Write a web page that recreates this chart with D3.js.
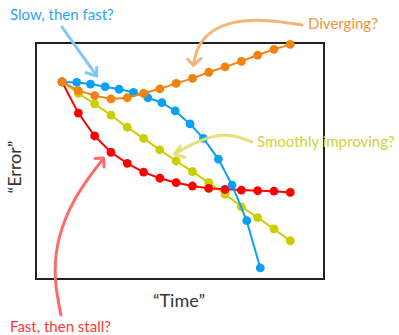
<!DOCTYPE html>
<html>
<head>
<meta charset="utf-8">
<script src="https://cdn.jsdelivr.net/npm/d3@7"></script>
<style>
  body { margin: 0; background: #fff; }
  svg { display: block; }
  text { font-family: Lato, "Open Sans", sans-serif; }
</style>
</head>
<body>
<div id="chart"></div>
<script>
// time steps (same for orange, red, yellow), blue runs on a slightly tighter step
const time = [0, 1, 2, 3, 4, 5, 6, 7, 8, 9, 10, 11, 12, 13, 14];
const blueTime = [0, 0.9, 1.74, 2.64, 3.5, 4.38, 5.26, 6.12, 6.94, 7.85, 8.67, 9.59, 10.43, 11.33, 12.16];

// "Error", 0 = bottom of frame, 100 = top
const errYellow = [83.5, 78.7, 74.2, 69.4, 64.3, 59.6, 54.7, 50.0, 45.5, 40.8, 36.0, 30.6, 26.0, 21.2, 16.2];
const errRed = [83.5, 70.3, 60.6, 53.7, 49.0, 45.3, 42.7, 40.8, 39.4, 38.4, 38.0, 37.7, 37.4, 37.2, 36.7];
const errBlue = [83.5, 83.3, 82.6, 81.5, 80.4, 79.1, 76.8, 74.7, 71.2, 65.7, 59.6, 50.8, 39.8, 24.7, 4.7];
const errOrange = [83.5, 79.8, 77.7, 76.3, 76.8, 78.7, 80.6, 82.9, 85.0, 87.6, 89.9, 92.2, 94.9, 97.3, 99.4];

const seriesNames = ['Smoothly improving?', 'Fast, then stall?', 'Slow, then fast?', 'Diverging?'];

const width = 399, height = 335;
const margin = { top: 43, left: 36, right: 75, bottom: 56 };

const svg = d3.select('#chart').append('svg')
  .attr('width', width)
  .attr('height', height);

const x = d3.scaleLinear().domain([-1.6, 16.07]).range([margin.left, width - margin.right]);
const y = d3.scaleLinear().domain([0, 100]).range([height - margin.bottom, margin.top]);

// frame
svg.append('rect')
  .attr('x', x.range()[0])
  .attr('y', y.range()[1])
  .attr('width', x.range()[1] - x.range()[0])
  .attr('height', y.range()[0] - y.range()[1])
  .attr('fill', 'none')
  .attr('stroke', '#222')
  .attr('stroke-width', 2);

// axis labels
svg.append('text')
  .attr('x', 179)
  .attr('y', 307)
  .attr('text-anchor', 'middle')
  .attr('font-size', 18)
  .attr('fill', '#333')
  .text('\u201CTime\u201D');

svg.append('text')
  .attr('transform', 'translate(21,167) rotate(-90)')
  .attr('text-anchor', 'middle')
  .attr('font-size', 18)
  .attr('fill', '#333')
  .text('\u201CError\u201D');

// series, bottom to top in drawing order
const series = [
  { name: seriesNames[0], t: time, e: errYellow, color: '#cccc00' },
  { name: seriesNames[1], t: time, e: errRed, color: '#ff0000' },
  { name: seriesNames[2], t: blueTime, e: errBlue, color: '#0aa0f5' },
  { name: seriesNames[3], t: time, e: errOrange, color: '#f0820f' }
];

const line = d3.line().x(d => x(d[0])).y(d => y(d[1]));

series.forEach(s => {
  const pts = s.t.map((t, i) => [t, s.e[i]]);
  const g = svg.append('g');
  g.append('path')
    .datum(pts)
    .attr('d', line)
    .attr('fill', 'none')
    .attr('stroke', s.color)
    .attr('stroke-width', 2);
  g.selectAll('circle')
    .data(pts)
    .join('circle')
    .attr('cx', d => x(d[0]))
    .attr('cy', d => y(d[1]))
    .attr('r', 4.4)
    .attr('fill', s.color);
});

// annotations (hand-drawn style arrows)
const curve = d3.line().curve(d3.curveBasis);
const annotations = [
  { text: seriesNames[2], tx: 10, ty: 20, color: '#2aa6f0', arrow: '#7cc9f2',
    path: [[62, 27], [79, 51], [96.5, 75.5]], head: [[96.7, 67.5], [96.7, 76], [86, 72.7]] },
  { text: seriesNames[3], tx: 308, ty: 29, color: '#f0953a', arrow: '#f4b478',
    path: [[302, 25], [265, 19], [225, 22], [202, 38], [195, 55], [193.5, 65]], head: [[187.5, 59], [193.5, 65.5], [201, 58.5]] },
  { text: seriesNames[0], tx: 257, ty: 147, color: '#d2d238', arrow: '#e2e27c',
    path: [[252, 142], [232, 134], [210, 136], [188, 146], [175, 154]], head: [[180.5, 146], [174.5, 154], [185, 157.5]] },
  { text: seriesNames[1], tx: 10, ty: 332, color: '#ff3a3a', arrow: '#ff6a6a',
    path: [[61, 315], [54, 280], [56, 245], [68, 210], [85, 182], [103, 159]], head: [[95, 158.5], [103.5, 158], [104, 167]] }
];

annotations.forEach(a => {
  svg.append('path')
    .attr('d', curve(a.path))
    .attr('fill', 'none')
    .attr('stroke', a.arrow)
    .attr('stroke-width', 3)
    .attr('stroke-linecap', 'round');
  svg.append('path')
    .attr('d', d3.line()(a.head))
    .attr('fill', 'none')
    .attr('stroke', a.arrow)
    .attr('stroke-width', 3)
    .attr('stroke-linecap', 'round')
    .attr('stroke-linejoin', 'round');
  svg.append('text')
    .attr('x', a.tx)
    .attr('y', a.ty)
    .attr('font-size', 15)
    .attr('fill', a.color)
    .text(a.text);
});
</script>
</body>
</html>
